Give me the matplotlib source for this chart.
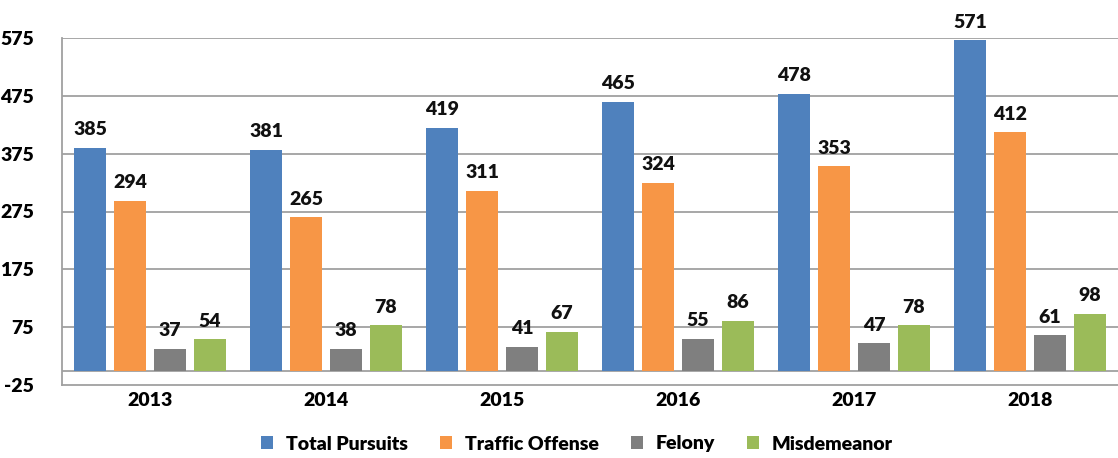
import matplotlib
matplotlib.use("Agg")
import matplotlib.pyplot as plt
import numpy as np

years = ["2013", "2014", "2015", "2016", "2017", "2018"]
series_names = ["Total Pursuits", "Traffic Offense", "Felony", "Misdemeanor"]
total_pursuits = [385, 381, 419, 465, 478, 571]
traffic_offense = [294, 265, 311, 324, 353, 412]
felony = [37, 38, 41, 55, 47, 61]
misdemeanor = [54, 78, 67, 86, 78, 98]
yticks = [-25, 75, 175, 275, 375, 475, 575]

colors = ["#4F81BD", "#F79646", "#7F7F7F", "#9BBB59"]
plt.rcParams['font.family'] = ['Lato', 'DejaVu Sans']
W = "heavy"

fig = plt.figure(figsize=(11.18, 4.58), dpi=100)
ax = fig.add_axes([62/1118, 1 - 385/458, 1 - 62/1118, (385 - 38)/458])

x = np.arange(len(years))
bw = 0.18
step = 0.227
all_series = [total_pursuits, traffic_offense, felony, misdemeanor]
for i, (vals, name, c) in enumerate(zip(all_series, series_names, colors)):
    pos = x + (i - 1.5) * step
    ax.bar(pos, vals, width=bw, color=c, label=name, zorder=3)
    for p, v in zip(pos, vals):
        ax.annotate(str(v), (p, v), xytext=(0, 7), textcoords="offset points",
                    ha="center", va="bottom", fontsize=14, fontweight=W, color="#111111")

ax.set_xlim(-0.5, len(years) - 0.5)
ax.set_ylim(-25, 575)
ax.set_yticks(yticks)
ax.set_yticklabels([str(t) for t in yticks], fontsize=14, fontweight=W)
ax.set_xticks(x)
ax.set_xticklabels(years, fontsize=14, fontweight=W)
ax.tick_params(length=0, pad=5)
ax.tick_params(axis="y", pad=20)

for t in yticks[1:]:
    ax.axhline(t, color="#A0A0A0", lw=1.3, zorder=1)
ax.axhline(0, color="#A0A0A0", lw=1.3, zorder=1)

for s in ["top", "right"]:
    ax.spines[s].set_visible(False)
ax.spines["left"].set_color("#A0A0A0")
ax.spines["bottom"].set_color("#A0A0A0")
ax.spines["left"].set_linewidth(1.3)
ax.spines["bottom"].set_linewidth(1.3)

leg = fig.legend(loc="center", bbox_to_anchor=(577/1118, 1 - 444/458), ncol=4, frameon=False,
                 prop={"size": 14, "weight": W}, handlelength=0.62, handleheight=0.62,
                 columnspacing=1.65, handletextpad=0.65)

fig.savefig("out.png", dpi=100)
